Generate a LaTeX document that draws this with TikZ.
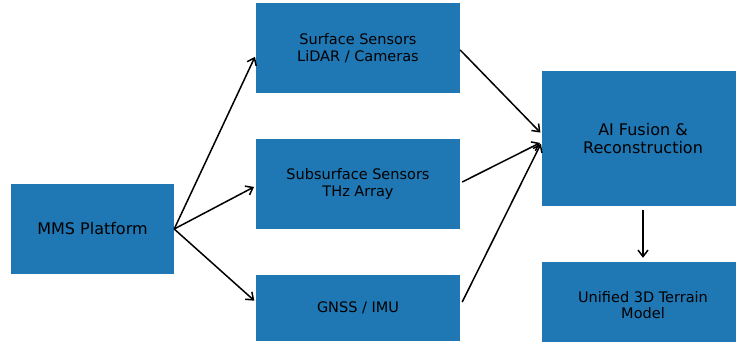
\documentclass[tikz,border=0pt]{standalone}
\usepackage{fontspec}
\setmainfont{DejaVu Sans}
\usepackage{tikz}
\usetikzlibrary{positioning}
\usetikzlibrary{arrows.meta}

\definecolor{tabblue}{HTML}{1F77B4}

\tikzset{
  block/.style={rectangle, fill=tabblue, inner sep=0pt, align=center,
                text=black, font=\fontsize{14.5}{16.5}\selectfont},
  bigblock/.style={block, font=\fontsize{16}{18.5}\selectfont},
  flow/.style={-{Straight Barb[length=6.5pt,width=10pt]}, line width=1.5pt,
               shorten >=2pt},
}

\begin{document}
\begin{tikzpicture}[x=1pt,y=-1pt]

	\useasboundingbox (0,0) rectangle (736,341);
	\clip (0,0) rectangle (736,341);

	%Blocks
	\node[bigblock, minimum width=163pt, minimum height=90pt] (MMS) at (92.5,229) {MMS Platform};

	\node[block, minimum width=204pt, minimum height=90pt] (Surf) at (358,48) {Surface Sensors\\LiDAR / Cameras};
	\node[block, minimum width=204pt, minimum height=90pt] (Sub) at (358,184) {Subsurface Sensors\\THz Array};
	\node[block, minimum width=204pt, minimum height=66pt] (GNSS) at (358,308) {GNSS / IMU};

	\node[bigblock, minimum width=202pt, minimum height=135pt] (Fusion) at (643,138.5) {AI Fusion \&\\Reconstruction};
	\node[block, minimum width=202pt, minimum height=86pt] (Model) at (643,305) {Unified 3D Terrain\\Model};

	%Arrows
	\draw[flow] (MMS.east) -- ([yshift=-7pt]Surf.west);
	\draw[flow] (MMS.east) -- ([yshift=-2pt]Sub.west);
	\draw[flow] (MMS.east) -- ([yshift=6pt]GNSS.west);

	\draw[flow] ([yshift=-2pt]Surf.east) -- ([yshift=4.5pt]Fusion.west);
	\draw[flow] ([xshift=2pt,yshift=2pt]Sub.east) -- ([yshift=-3.5pt]Fusion.west);
	\draw[flow] ([xshift=2pt,yshift=6pt]GNSS.east) -- ([yshift=-3.5pt]Fusion.west);

	\draw[flow, shorten <=4pt, shorten >=4pt] (Fusion.south) -- (Model.north);

\end{tikzpicture}
\end{document}
